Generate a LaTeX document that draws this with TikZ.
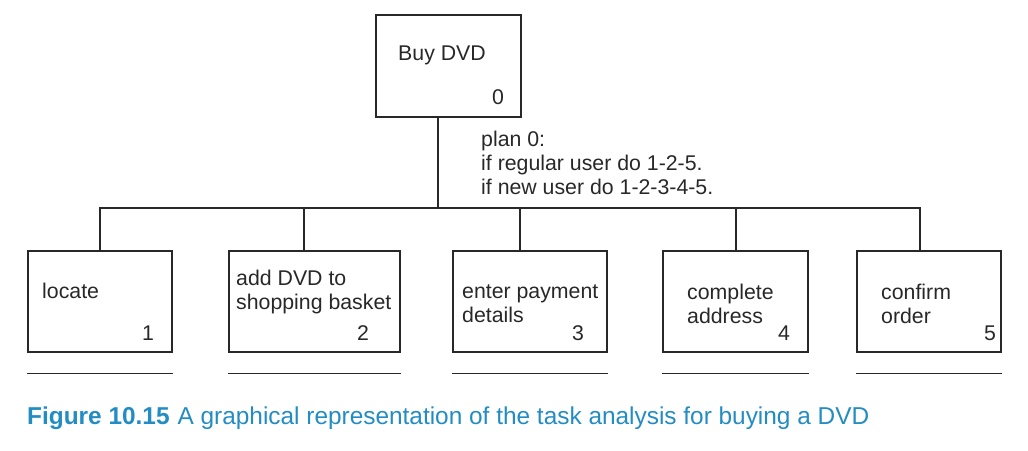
\documentclass[tikz,border=0pt]{standalone}
\usepackage{fontspec}
\setmainfont{Liberation Sans}
\usetikzlibrary{positioning}
\definecolor{capblue}{RGB}{35,140,195}
\definecolor{ink}{RGB}{40,40,40}
\begin{document}
\begin{tikzpicture}[x=1pt,y=-1pt,
        task/.style={draw=ink,line width=1.2pt,inner sep=0pt},
        lbl/.style={anchor=west,inner sep=0pt,align=left,text=ink,
            font=\fontsize{21.3}{24}\selectfont},
        num/.style={inner sep=0pt,text=ink,font=\fontsize{21.3}{24}\selectfont},
        link/.style={draw=ink,line width=1.2pt}]
\useasboundingbox (0,0) rectangle (1028,450);

% top task
\node[task,minimum width=145pt,minimum height=102pt] (top) at (448.5,66) {};
\node[lbl,anchor=center] (topname) at (442,55) {Buy DVD};
\node[num] (topnum) at (498,97) {0};
\node[lbl] (plan) at (481,163) {plan 0:\\if regular user do 1-2-5.\\if new user do 1-2-3-4-5.};

% sub tasks
\node[task,minimum width=144pt,minimum height=101pt] (b1) at (100,301.5) {};
\node[task,minimum width=171pt,minimum height=101pt] (b2) at (314.5,301.5) {};
\node[task,minimum width=154pt,minimum height=101pt] (b3) at (530,301.5) {};
\node[task,minimum width=145pt,minimum height=101pt] (b4) at (735.5,301.5) {};
\node[task,minimum width=144pt,minimum height=101pt] (b5) at (929,301.5) {};

\node[lbl] (t1) at (42,291) {locate};
\node[lbl] (t2) at (236,292) {add DVD to\\shopping basket};
\node[lbl] (t3) at (462,303.5) {enter payment\\details};
\node[lbl] (t4) at (687,303.5) {complete\\address};
\node[lbl] (t5) at (881,303.5) {confirm\\order};

\node[num] (n1) at (148,333) {1};
\node[num] (n2) at (363,333) {2};
\node[num] (n3) at (578,333) {3};
\node[num] (n4) at (784,333) {4};
\node[num] (n5) at (990,333) {5};

% tree lines
\coordinate (bus) at (438,208);
\draw[link] ([xshift=-10.5pt]top.south) -- (bus);
\draw[link] (b1.north) |- (bus) -| ([xshift=-9pt]b5.north);
\draw[link] ([xshift=-10.5pt]b2.north) -- ([xshift=-10.5pt]b2.north |- bus);
\draw[link] ([xshift=-10pt]b3.north) -- ([xshift=-10pt]b3.north |- bus);
\draw[link] ([xshift=0.5pt]b4.north) -- ([xshift=0.5pt]b4.north |- bus);

% empty plan lines
\foreach \b in {b1,b2,b3,b4,b5}
    \draw[link] ([yshift=-21pt]\b.south west) -- ([yshift=-21pt]\b.south east);

% caption
\node[anchor=west,inner sep=0pt,text=capblue,font=\fontsize{24.4}{28}\selectfont]
    (caption) at (27,418) {\textbf{Figure 10.15}\hspace{8pt}A graphical representation of the task analysis for buying a DVD};
\end{tikzpicture}
\end{document}
